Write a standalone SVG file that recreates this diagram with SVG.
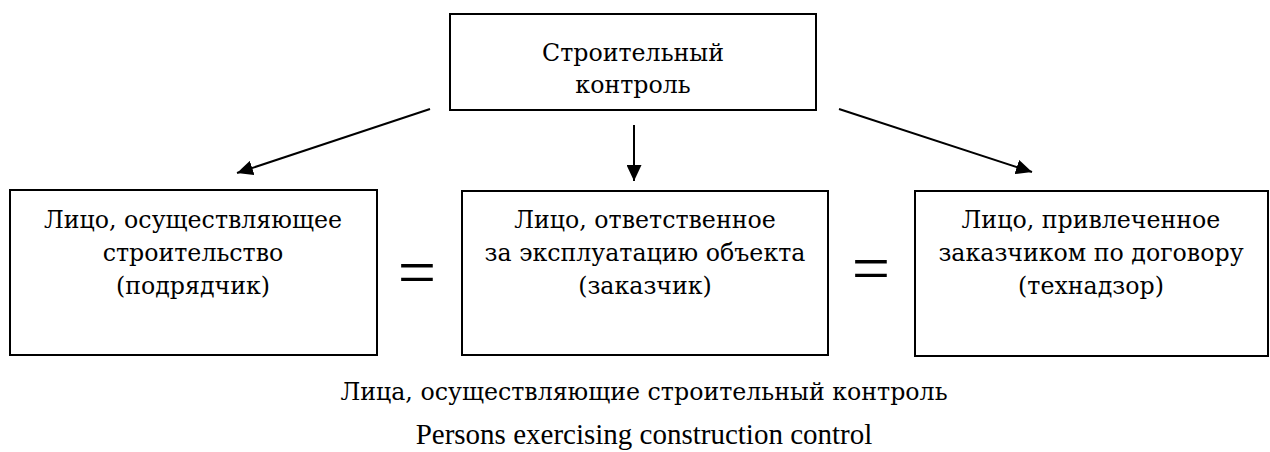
<svg xmlns="http://www.w3.org/2000/svg" width="1270" height="452" viewBox="0 0 1270 452">
<style>
.box{fill:#fff;stroke:#000;stroke-width:2}
.t{font-family:"DejaVu Serif","Liberation Serif",serif;font-size:23.7px;fill:#000;text-anchor:middle}
.en{font-family:"Liberation Serif","Times New Roman",serif;font-size:29px;fill:#000;text-anchor:middle}
.eq{font-family:"Liberation Serif","Times New Roman",serif;font-size:68px;fill:#000;text-anchor:middle}
.c{stroke:#000;stroke-width:2;fill:none}
</style>
<defs>
<marker id="ah" viewBox="0 0 16 15" refX="16" refY="7.5" markerWidth="16" markerHeight="15" markerUnits="userSpaceOnUse" orient="auto">
<path d="M0,0 L16,7.5 L0,15 z" fill="#000"/>
</marker>
</defs>
<rect width="1270" height="452" fill="#fff"/>
<g id="top">
<rect class="box" x="450" y="14" width="366" height="96"/>
<text class="t" x="633" y="61">Строительный</text>
<text class="t" x="633" y="93">контроль</text>
</g>
<g id="left">
<rect class="box" x="10" y="190" width="367" height="165"/>
<text class="t" x="193" y="228">Лицо, осуществляющее</text>
<text class="t" x="193" y="261">строительство</text>
<text class="t" x="193" y="294">(подрядчик)</text>
</g>
<g id="middle">
<rect class="box" x="462" y="191" width="366" height="164"/>
<text class="t" x="645" y="228">Лицо, ответственное</text>
<text class="t" x="645" y="261">за эксплуатацию объекта</text>
<text class="t" x="645" y="294">(заказчик)</text>
</g>
<g id="right">
<rect class="box" x="915" y="191" width="353" height="165"/>
<text class="t" x="1091" y="228">Лицо, привлеченное</text>
<text class="t" x="1091" y="261">заказчиком по договору</text>
<text class="t" x="1091" y="294">(технадзор)</text>
</g>
<g id="connectors">
<line class="c" x1="430" y1="109" x2="237" y2="173" marker-end="url(#ah)"/>
<line class="c" x1="634" y1="125" x2="634" y2="181" marker-end="url(#ah)"/>
<line class="c" x1="839" y1="109" x2="1032" y2="172" marker-end="url(#ah)"/>
</g>
<text class="eq" x="417" y="295">=</text>
<text class="eq" x="871" y="291">=</text>
<text class="t" x="644" y="400">Лица, осуществляющие строительный контроль</text>
<text class="en" x="644" y="444">Persons exercising construction control</text>
</svg>
